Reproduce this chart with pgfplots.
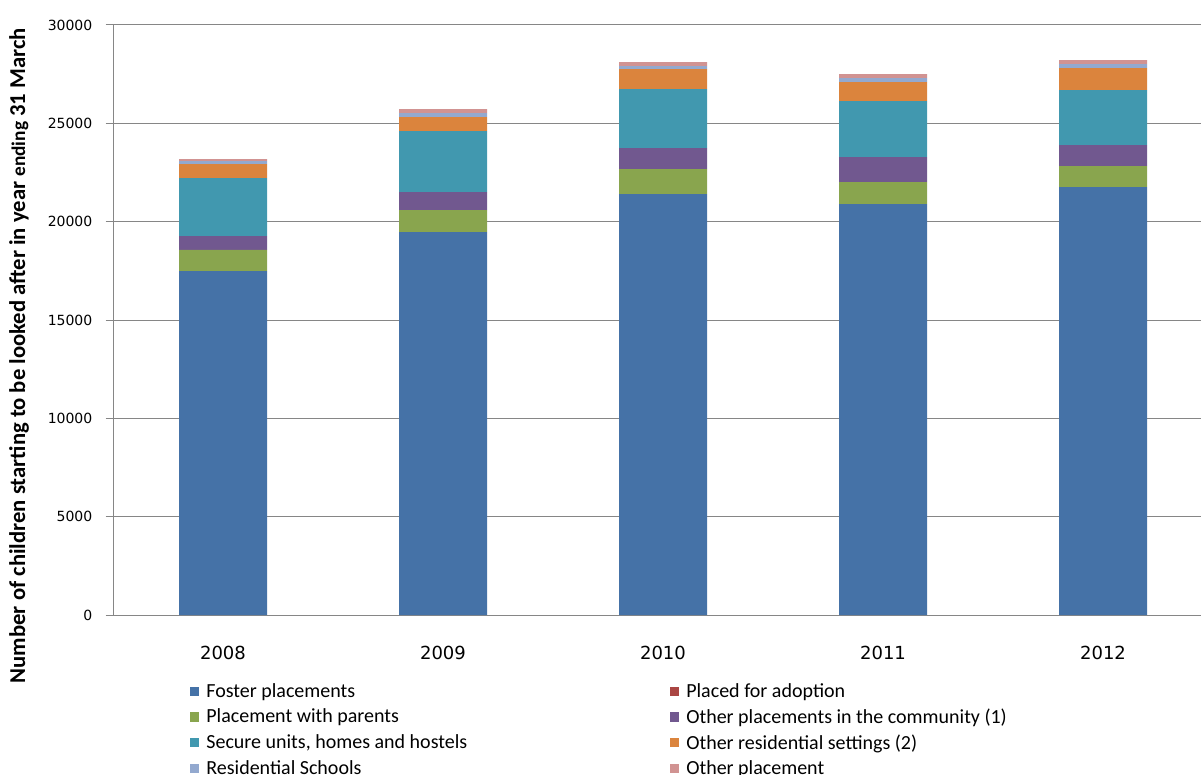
\documentclass[border=0pt]{standalone}
\usepackage{fontspec}
\setmainfont{Carlito}
\newfontfamily\axisnumfont{DejaVu Sans}
\usepackage{pgfplots}
\usepackage{pgfplotstable}
\pgfplotsset{compat=1.18}

\definecolor{cFoster}{HTML}{4572A7}
\definecolor{cAdopt}{HTML}{AA4643}
\definecolor{cParents}{HTML}{89A54E}
\definecolor{cCommunity}{HTML}{71588F}
\definecolor{cSecure}{HTML}{4198AF}
\definecolor{cOtherRes}{HTML}{DB843D}
\definecolor{cSchools}{HTML}{93A9CF}
\definecolor{cOther}{HTML}{D19392}
\definecolor{axisgray}{HTML}{868686}

% Children starting to be looked after, by placement type (year ending 31 March)
\pgfplotstableread{
x foster adoption parents community secure otherres schools other
0 17490 0 1070  710 2950  710 150 100
1 19470 0 1120  910 3110  710 200 200
2 21400 0 1270 1070 3000 1020 150 200
3 20890 0 1120 1270 2850  970 200 200
4 21760 0 1070 1060 2800 1120 200 210
}\placements

\pgfplotsset{
  sqlegend/.style={legend image code/.code={%
    \fill[##1] (0pt,-3.4pt) rectangle (6.8pt,3.4pt);}},
}

\begin{document}
\begin{tikzpicture}
\begin{axis}[
  at={(0pt,0pt)}, anchor=south west,
  scale only axis, width=825pt, height=442.5pt,
  xmin=-0.5, xmax=4.5, ymin=0, ymax=30000,
  ybar stacked, bar width=0.4,
  axis lines*=left,
  axis line style={axisgray, line width=0.75pt},
  ymajorgrids, grid style={axisgray, line width=0.75pt},
  ytick={0,5000,...,30000},
  scaled y ticks=false,
  xtick={0,1,2,3,4},
  xticklabels={2008,2009,2010,2011,2012},
  minor xtick={-0.5,0.5,1.5,2.5,3.5,4.5},
  tick align=outside,
  major tick length=5.5pt, minor tick length=5.5pt,
  xtick style={draw=none},
  minor tick style={axisgray, line width=0.75pt},
  ytick style={axisgray, line width=0.75pt},
  yticklabel={\axisnumfont\pgfmathprintnumber[1000 sep={}, assume math mode=true]{\tick}},
  yticklabel style={font=\fontsize{10.5}{12}\selectfont, xshift=-6.5pt},
  xticklabel style={font=\axisnumfont\fontsize{13.5}{15}\selectfont, yshift=-14pt},
  legend columns=2,
  legend cell align=left,
  legend style={at={(rel axis cs:0.0661,-0.1068)}, anchor=north west,
    draw=none, fill=none, font=\fontsize{15}{18}\selectfont,
    row sep=2.9pt,
    /tikz/every odd column/.append style={column sep=3.5pt},
    /tikz/column 2/.append style={column sep=150pt}},
]
\addplot[fill=cFoster, draw=none, sqlegend] table[x=x, y=foster] {\placements};
\addlegendentry{Foster placements}
\addplot[fill=cAdopt, draw=none, sqlegend] table[x=x, y=adoption] {\placements};
\addlegendentry{Placed for adoption}
\addplot[fill=cParents, draw=none, sqlegend] table[x=x, y=parents] {\placements};
\addlegendentry{Placement with parents}
\addplot[fill=cCommunity, draw=none, sqlegend] table[x=x, y=community] {\placements};
\addlegendentry{Other placements in the community (1)}
\addplot[fill=cSecure, draw=none, sqlegend] table[x=x, y=secure] {\placements};
\addlegendentry{Secure units, homes and hostels}
\addplot[fill=cOtherRes, draw=none, sqlegend] table[x=x, y=otherres] {\placements};
\addlegendentry{Other residential settings (2)}
\addplot[fill=cSchools, draw=none, sqlegend] table[x=x, y=schools] {\placements};
\addlegendentry{Residential Schools}
\addplot[fill=cOther, draw=none, sqlegend] table[x=x, y=other] {\placements};
\addlegendentry{Other placement}
\end{axis}
\node[rotate=90, font=\bfseries\fontsize{17}{20}\selectfont] at (-70.5pt,194.5pt)
  {Number of children starting to be looked after in year {\fontsize{14.5}{17}\selectfont ending} 31 March};
\pgfresetboundingbox
\path[use as bounding box] (-84.75pt,-119.25pt) rectangle (816pt,461.25pt);
\end{tikzpicture}
\end{document}
